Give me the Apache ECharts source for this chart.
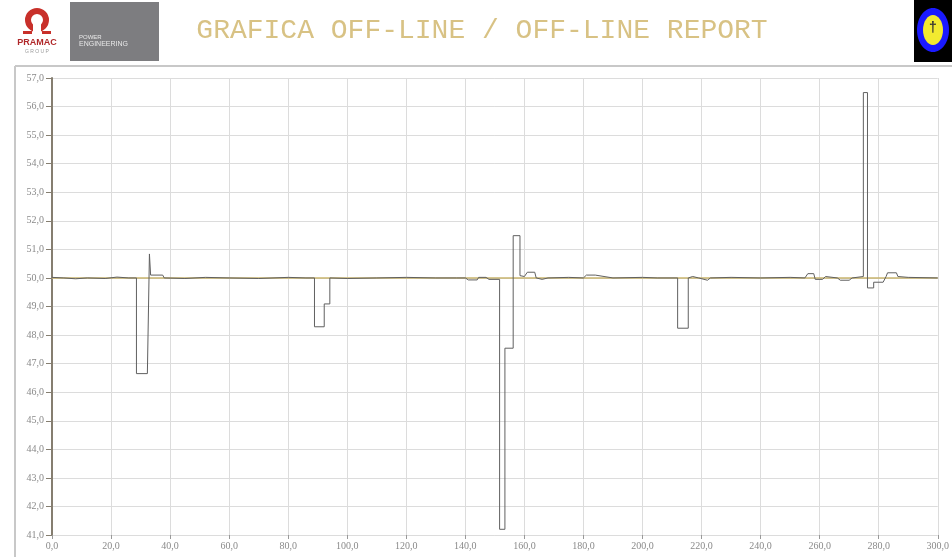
<!DOCTYPE html>
<html><head><meta charset="utf-8">
<script src="https://cdn.jsdelivr.net/npm/echarts@6/dist/echarts.min.js"></script>
<style>html,body{margin:0;padding:0;background:#fff}#c{width:952px;height:557px}</style>
</head><body><div id="c"></div>
<script>
// Grey measured trace (x = sample, y = frequency)
var traceX = [0,4,8,12,18,22,26,28.6,28.6,32.3,33.0,33.4,34,37.5,38,45,52,60,70,80,86,88.9,88.9,92.2,92.2,94.1,94.1,100,110,120,130,137,140,141,144,144.5,147,148,151.6,151.6,153.4,153.4,156.2,156.2,158.5,158.5,160,161,163.5,164,166,168,175,180,181,184,190,200,205,211.9,211.9,215.5,215.5,217,219,222,223,230,240,250,255,256,258,258.5,261,262,266,267,270,271,274.8,274.8,276.2,276.2,278.3,278.3,281.5,282.5,283,286,286.5,290,300];
var traceY = [50.02,50.0,49.97,50.0,49.98,50.03,50.0,50.0,46.65,46.65,50.84,50.1,50.12,50.1,50.0,49.98,50.02,50.0,49.98,50.02,50.0,50.0,48.29,48.29,49.09,49.09,50.0,49.98,50.0,50.02,50.0,50.0,50.0,49.93,49.93,50.02,50.02,49.95,49.95,41.2,41.2,47.54,47.54,51.48,51.48,50.08,50.05,50.2,50.2,50.0,49.95,50.0,50.02,50.0,50.1,50.1,50.0,50.02,50.0,50.0,48.24,48.24,50.0,50.05,50.0,49.92,50.0,50.02,50.0,50.02,50.0,50.15,50.15,49.95,49.95,50.05,50.0,49.92,49.92,50.0,50.05,56.49,56.49,49.65,49.65,49.85,49.85,50.05,50.18,50.18,50.05,50.02,50.0];
// Yellow reference trace
var refX = [0,300];
var refY = [50.0,50.0];
var xTicks = {min:0,max:300,step:20};
var yTicks = {min:41,max:57,step:1};
var titleText = 'GRAFICA OFF-LINE / OFF-LINE REPORT';

function pairs(xs,ys){var o=[];for(var i=0;i<xs.length;i++)o.push([xs[i],ys[i]]);return o;}
function fmt(v){return v.toFixed(1).replace('.',',');}

var chart = echarts.init(document.getElementById('c'),null,{renderer:'canvas'});
chart.setOption({
  animation:false,
  backgroundColor:'#fff',
  grid:{left:52,right:12,top:78,bottom:22,containLabel:false},
  xAxis:{type:'value',min:xTicks.min,max:xTicks.max,interval:xTicks.step,
    axisLine:{show:false},
    axisTick:{show:true,length:4,lineStyle:{color:'#999'}},
    axisLabel:{formatter:fmt,color:'#8a8a8a',fontSize:10,margin:6,fontFamily:'Liberation Serif'},
    splitLine:{show:true,lineStyle:{color:'#dcdcdc',width:1}}},
  yAxis:{type:'value',min:yTicks.min,max:yTicks.max,interval:yTicks.step,
    axisLine:{show:true,lineStyle:{color:'#857e70',width:2}},
    axisTick:{show:true,length:6,lineStyle:{color:'#857e70'}},
    axisLabel:{formatter:fmt,color:'#8a8a8a',fontSize:10,margin:8,fontFamily:'Liberation Serif'},
    splitLine:{show:true,lineStyle:{color:'#dcdcdc',width:1}}},
  series:[
    {type:'line',data:pairs(refX,refY),showSymbol:false,lineStyle:{color:'#c8b46e',width:1.5},z:2},
    {type:'line',data:pairs(traceX,traceY),showSymbol:false,lineStyle:{color:'#606060',width:1},z:3}
  ],
  graphic:[
    {type:'line',shape:{x1:15,y1:66,x2:952,y2:66},style:{stroke:'#c8c8c8',lineWidth:2}},
    {type:'line',shape:{x1:15,y1:66,x2:15,y2:557},style:{stroke:'#c8c8c8',lineWidth:2}},
    // PRAMAC logo
    {type:'ring',shape:{cx:37,cy:20,r:12,r0:6},style:{fill:'#c8302a'}},
    {type:'rect',shape:{x:33,y:23,width:8,height:11},style:{fill:'#fff'}},
    {type:'rect',shape:{x:23,y:31,width:9,height:3},style:{fill:'#c8302a'}},
    {type:'rect',shape:{x:42,y:31,width:9,height:3},style:{fill:'#c8302a'}},
    {type:'text',x:37,y:43,style:{text:'PRAMAC',fill:'#b0282a',font:'bold 9px Liberation Sans',align:'center',verticalAlign:'middle'}},
    {type:'text',x:37,y:52,style:{text:'G R O U P',fill:'#999',font:'5px Liberation Sans',align:'center',verticalAlign:'middle'}},
    {type:'rect',shape:{x:70,y:2,width:89,height:59},style:{fill:'#7d7d80'}},
    {type:'text',x:79,y:37,style:{text:'POWER',fill:'#e8e8e8',font:'6px Liberation Sans',verticalAlign:'middle'}},
    {type:'text',x:79,y:44,style:{text:'ENGINEERING',fill:'#e8e8e8',font:'7px Liberation Sans',verticalAlign:'middle'}},
    // Title
    {type:'text',x:482,y:31,style:{text:titleText,fill:'#d8c284',font:'28px "Liberation Mono"',align:'center',verticalAlign:'middle'}},
    // right logo
    {type:'rect',shape:{x:914,y:0,width:38,height:62},style:{fill:'#000'}},
    {type:'ellipse',shape:{cx:933,cy:30,rx:16,ry:22},style:{fill:'#1a1aff'}},
    {type:'ellipse',shape:{cx:933,cy:30,rx:10,ry:15},style:{fill:'#f2ea30'}},
    {type:'text',x:933,y:28,style:{text:'\u2020',fill:'#333',font:'bold 14px Liberation Sans',align:'center',verticalAlign:'middle'}}
  ]
});
</script></body></html>
